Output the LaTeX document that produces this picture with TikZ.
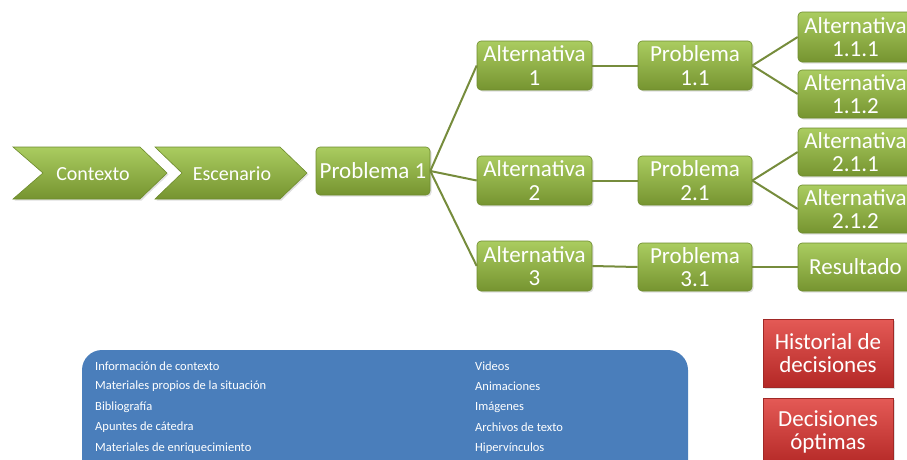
\documentclass[tikz,border=0pt]{standalone}
\usepackage{fontspec}
\setmainfont{Carlito}
\usetikzlibrary{shadows}
\definecolor{gtop}{RGB}{170,204,96}
\definecolor{gbot}{RGB}{118,148,48}
\definecolor{gedge}{RGB}{110,140,45}
\definecolor{gline}{RGB}{118,140,60}
\definecolor{rtop}{RGB}{228,90,86}
\definecolor{rbot}{RGB}{180,40,38}
\definecolor{redge}{RGB}{160,40,38}
\definecolor{bluefill}{RGB}{74,126,187}
\tikzset{
  gbox/.style={draw=gedge, line width=0.6pt, top color=gtop, bottom color=gbot,
    rounded corners=4pt, text=white, align=center, font=\fontsize{23}{23.5}\selectfont,
    inner sep=0pt, drop shadow={opacity=0.25, shadow xshift=1.5pt, shadow yshift=-1.5pt}},
  rbox/.style={draw=redge, line width=0.6pt, top color=rtop, bottom color=rbot,
    text=white, align=center, font=\fontsize{23}{23}\selectfont, inner sep=0pt,
    drop shadow={opacity=0.25, shadow xshift=1.5pt, shadow yshift=-1.5pt}},
  chev/.style={draw=gedge, line width=0.6pt, top color=gtop, bottom color=gbot,
    drop shadow={opacity=0.25, shadow xshift=1.5pt, shadow yshift=-1.5pt}},
  chevtext/.style={text=white, font=\fontsize{20}{20}\selectfont},
  conn/.style={draw=gline, line width=2pt},
  bluetext/.style={text=white, anchor=west, font=\fontsize{12.5}{12.5}\selectfont, inner sep=0pt}
}
\begin{document}
\begin{tikzpicture}[x=1pt,y=-1pt]
\useasboundingbox (0,0) rectangle (907,459);
\clip (0,0) rectangle (907,459);
% chevrons
\path[chev] (13,147) -- (140,147) -- (167,173) -- (140,199) -- (13,199) -- (43,173) -- cycle;
\path[chev] (155,147) -- (280,147) -- (307,173) -- (280,199) -- (155,199) -- (182,173) -- cycle;
\node[chevtext] (ctx) at (93,174) {Contexto};
\node[chevtext] (esc) at (232,174) {Escenario};
% boxes
\node[gbox, minimum width=114pt, minimum height=48pt] (p1) at (373,171) {Problema 1};
\node[gbox, minimum width=115pt, minimum height=49pt] (a1) at (534.5,65.5) {Alternativa\\1};
\node[gbox, minimum width=115pt, minimum height=49pt] (a2) at (534.5,180.5) {Alternativa\\2};
\node[gbox, minimum width=115pt, minimum height=50pt] (a3) at (534.5,266) {Alternativa\\3};
\node[gbox, minimum width=114pt, minimum height=49pt] (q1) at (695,65.5) {Problema\\1.1};
\node[gbox, minimum width=114pt, minimum height=49pt] (q2) at (695,180.5) {Problema\\2.1};
\node[gbox, minimum width=114pt, minimum height=48pt] (q3) at (695,267) {Problema\\3.1};
\node[gbox, minimum width=115pt, minimum height=50pt] (b111) at (855.5,37) {Alternativa\\1.1.1};
\node[gbox, minimum width=115pt, minimum height=48pt] (b112) at (855.5,94) {Alternativa\\1.1.2};
\node[gbox, minimum width=115pt, minimum height=48pt] (b211) at (855.5,152) {Alternativa\\2.1.1};
\node[gbox, minimum width=115pt, minimum height=48pt] (b212) at (855.5,209) {Alternativa\\2.1.2};
\node[gbox, minimum width=115pt, minimum height=48pt] (res) at (855.5,267) {Resultado};
% connectors
\draw[conn] (p1.east) -- (a1.west);
\draw[conn] (p1.east) -- (a2.west);
\draw[conn] (p1.east) -- (a3.west);
\draw[conn] (a1.east) -- (q1.west);
\draw[conn] (a2.east) -- (q2.west);
\draw[conn] (a3.east) -- (q3.west);
\draw[conn] (q1.east) -- (b111.west);
\draw[conn] (q1.east) -- (b112.west);
\draw[conn] (q2.east) -- (b211.west);
\draw[conn] (q2.east) -- (b212.west);
\draw[conn] (q3.east) -- (res.west);
% red boxes
\node[rbox, minimum width=130pt, minimum height=68pt] (hist) at (828,353) {Historial de\\decisiones};
\node[rbox, minimum width=130pt, minimum height=68pt] (opt) at (828,432) {Decisiones\\óptimas};
% blue panel
\fill[bluefill, rounded corners=20pt] (82,350) rectangle (688,490);
\node[bluetext] (l1) at (95,366) {Información de contexto};
\node[bluetext] (l2) at (95,386.5) {Materiales propios de la situación};
\node[bluetext] (l3) at (95,407) {Bibliografía};
\node[bluetext] (l4) at (95,427.5) {Apuntes de cátedra};
\node[bluetext] (l5) at (95,448) {Materiales de enriquecimiento};
\node[bluetext] (r1) at (475,366) {Videos};
\node[bluetext] (r2) at (475,386.5) {Animaciones};
\node[bluetext] (r3) at (475,407) {Imágenes};
\node[bluetext] (r4) at (475,427.5) {Archivos de texto};
\node[bluetext] (r5) at (475,448) {Hipervínculos};
\end{tikzpicture}
\end{document}
